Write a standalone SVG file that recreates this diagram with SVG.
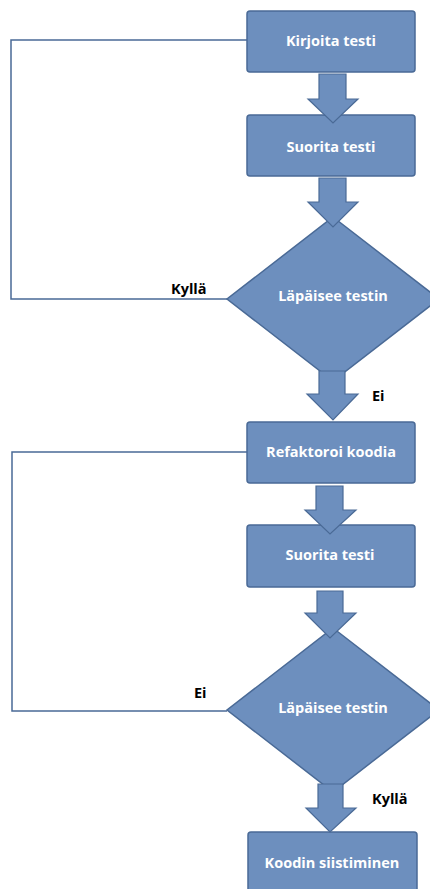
<svg xmlns="http://www.w3.org/2000/svg" width="430" height="889" viewBox="0 0 430 889">
<style>
.box{fill:#6d8fbe;stroke:#4a6a96;stroke-width:1.5}
.arr{fill:#6d8fbe;stroke:#4a6a96;stroke-width:1.2;stroke-linejoin:miter}
.ln{fill:none;stroke:#4a6a96;stroke-width:1.5}
.t{font-family:"Open Sans","Liberation Sans",sans-serif;font-weight:bold;font-size:14.5px;fill:#ffffff;text-anchor:middle}
.lb{font-family:"Open Sans","Liberation Sans",sans-serif;font-weight:bold;font-size:14.5px;fill:#000000}
</style>
<rect width="430" height="889" fill="#ffffff"/>
<g id="connectors">
<polyline class="ln" points="247,40 11,40 11,299 227,299"/>
<polyline class="ln" points="247,452 12,452 12,711 227,711"/>
</g>
<g id="n1"><rect class="box" x="247" y="11" width="168" height="61" rx="3"/><text class="t" x="331" y="46">Kirjoita testi</text></g>
<g id="n2"><rect class="box" x="247" y="115" width="168" height="61" rx="3"/><text class="t" x="331" y="152">Suorita testi</text></g>
<g id="n3"><polygon class="box" points="333,217 439,299 333,381 227,299"/><text class="t" x="333" y="301">Läpäisee testin</text></g>
<g id="n4"><rect class="box" x="247" y="422" width="168" height="61" rx="3"/><text class="t" x="331" y="457">Refaktoroi koodia</text></g>
<g id="n5"><rect class="box" x="247" y="525" width="168" height="62" rx="3"/><text class="t" x="330" y="560">Suorita testi</text></g>
<g id="n6"><polygon class="box" points="333,628 439,710 333,792 227,710"/><text class="t" x="333" y="713">Läpäisee testin</text></g>
<g id="n7"><rect class="box" x="248" y="832" width="169" height="70" rx="3"/><text class="t" x="332" y="868">Koodin siistiminen</text></g>
<g id="arrows">
<polygon class="arr" points="319,74 346,74 346,99 358,99 333,123 308,99 319,99"/>
<polygon class="arr" points="319,178 346,178 346,202 358,202 333,227 308,202 319,202"/>
<polygon class="arr" points="319,371 345,371 345,394 358,394 333,420 307,394 319,394"/>
<polygon class="arr" points="316,486 343,486 343,510 356,510 330,534 305,510 316,510"/>
<polygon class="arr" points="317,591 343,591 343,613 356,613 330,638 305,613 317,613"/>
<polygon class="arr" points="318,784 343,784 343,808 356,808 330,832 306,808 318,808"/>
</g>
<g id="labels">
<text class="lb" x="171" y="294">Kyllä</text>
<text class="lb" x="372" y="401">Ei</text>
<text class="lb" x="194" y="698">Ei</text>
<text class="lb" x="372" y="804">Kyllä</text>
</g>
</svg>
